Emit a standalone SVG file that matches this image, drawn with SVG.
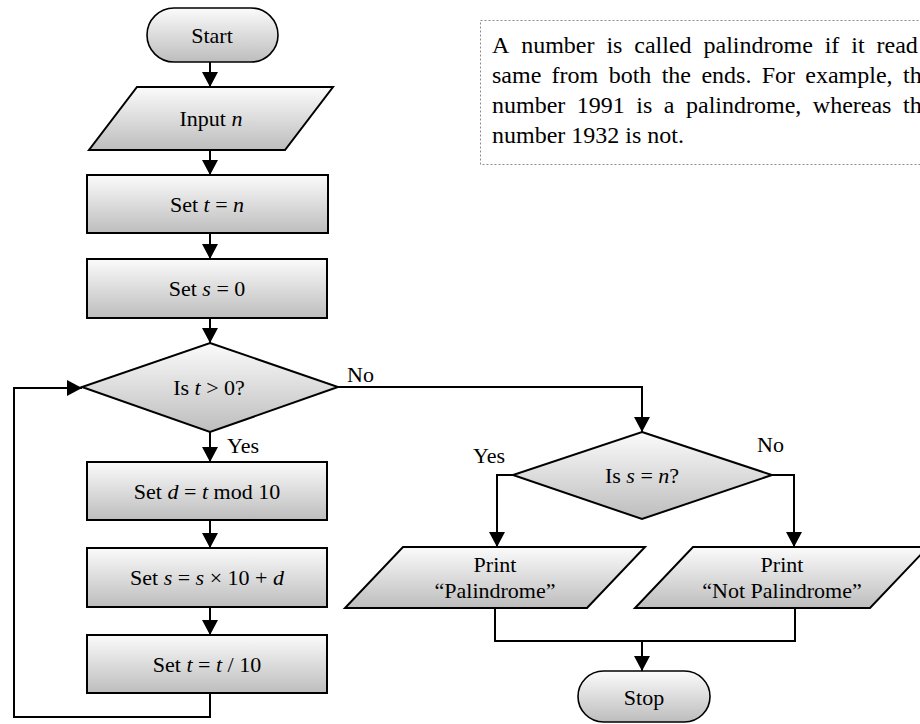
<svg xmlns="http://www.w3.org/2000/svg" width="920" height="724" viewBox="0 0 920 724">
  <defs>
    <linearGradient id="shade" x1="0" y1="0" x2="0" y2="1">
      <stop offset="0" stop-color="#fbfbfb"/>
      <stop offset="1" stop-color="#bdbdbd"/>
    </linearGradient>
    <marker id="arrow" markerUnits="userSpaceOnUse" markerWidth="16" markerHeight="16" viewBox="0 0 16 16" refX="15" refY="8" orient="auto">
      <path d="M0,0 L15,8 L0,16 z" fill="#000"/>
    </marker>
  </defs>
  <style>
    .shape { fill: url(#shade); stroke: #000; stroke-width: 2; }
    .term { fill: url(#shade); stroke: #000; stroke-width: 1.6; }
    .link { fill: none; stroke: #000; stroke-width: 2; }
    .arr { marker-end: url(#arrow); }
    text { font-family: "Liberation Serif", "Times New Roman", serif; font-size: 22px; fill: #000; }
    .lbl { text-anchor: middle; }
    .note { font-size: 24px; }
    i, .it { font-style: italic; }
  </style>

  <rect width="920" height="724" fill="#fff"/>

  <!-- explanatory note -->
  <g id="note">
    <rect x="480.5" y="20.5" width="470" height="144" fill="none" stroke="#8a8a8a" stroke-width="1" stroke-dasharray="2 2"/>
    <text class="note" y="53">
      <tspan x="492">A</tspan><tspan x="521.2">number</tspan><tspan x="606.4">is</tspan><tspan x="634.3">called</tspan><tspan x="703.5">palindrome</tspan><tspan x="824.7">if</tspan><tspan x="851.3">it</tspan><tspan x="876.5">read</tspan>
    </text>
    <text class="note" y="83">
      <tspan x="492">same</tspan><tspan x="551.6">from</tspan><tspan x="608.7">both</tspan><tspan x="661.7">the</tspan><tspan x="701.4">ends.</tspan><tspan x="761.7">For</tspan><tspan x="805.3">example,</tspan><tspan x="903">th</tspan>
    </text>
    <text class="note" y="113">
      <tspan x="492">number</tspan><tspan x="576.8">1991</tspan><tspan x="636.3">is</tspan><tspan x="663.8">a</tspan><tspan x="686">palindrome,</tspan><tspan x="812.8">whereas</tspan><tspan x="903">th</tspan>
    </text>
    <text class="note" x="492" y="143">number 1932 is not.</text>
  </g>

  <!-- connectors -->
  <g id="connectors">
    <path class="link arr" d="M210,62 V87"/>
    <path class="link arr" d="M210,150 V175"/>
    <path class="link arr" d="M210,233 V259"/>
    <path class="link arr" d="M210,318 V343"/>
    <path class="link arr" d="M210,432 V462"/>
    <path class="link arr" d="M210,520 V548"/>
    <path class="link arr" d="M210,607 V635"/>
    <path class="link arr" d="M210,693 V717 H14 V388 H82"/>
    <path class="link arr" d="M338,387 H642 V432"/>
    <path class="link arr" d="M513,475 H497 V547"/>
    <path class="link arr" d="M772,475 H794 V547"/>
    <path class="link" d="M495,608 V641 H795 V608"/>
    <path class="link arr" d="M642,641 V671"/>
    <text x="347" y="382">No</text>
    <text x="227" y="453">Yes</text>
    <text x="473" y="463">Yes</text>
    <text x="757" y="452">No</text>
  </g>

  <g id="start">
    <rect class="term" x="147" y="8" width="131" height="54" rx="27"/>
    <text class="lbl" x="212" y="43">Start</text>
  </g>

  <g id="input-n">
    <polygon class="shape" points="137,87 333,87 285,150 89,150"/>
    <text class="lbl" x="211" y="126">Input <tspan class="it">n</tspan></text>
  </g>

  <g id="set-t-n">
    <rect class="shape" x="87" y="175" width="241" height="58"/>
    <text class="lbl" x="207" y="212">Set <tspan class="it">t</tspan> = <tspan class="it">n</tspan></text>
  </g>

  <g id="set-s-0">
    <rect class="shape" x="87" y="259" width="240" height="59"/>
    <text class="lbl" x="207" y="296">Set <tspan class="it">s</tspan> = 0</text>
  </g>

  <g id="test-t">
    <polygon class="shape" points="210,343 338,387 210,432 82,387"/>
    <text class="lbl" x="209" y="395">Is <tspan class="it">t</tspan> &gt; 0?</text>
  </g>

  <g id="set-d">
    <rect class="shape" x="87" y="462" width="240" height="58"/>
    <text class="lbl" x="207" y="499">Set <tspan class="it">d</tspan> = <tspan class="it">t</tspan> mod 10</text>
  </g>

  <g id="set-s-acc">
    <rect class="shape" x="87" y="548" width="240" height="59"/>
    <text class="lbl" x="207" y="585">Set <tspan class="it">s</tspan> = <tspan class="it">s</tspan> × 10 + <tspan class="it">d</tspan></text>
  </g>

  <g id="set-t-div">
    <rect class="shape" x="87" y="635" width="240" height="58"/>
    <text class="lbl" x="207" y="672">Set <tspan class="it">t</tspan> = <tspan class="it">t</tspan> / 10</text>
  </g>

  <g id="test-s">
    <polygon class="shape" points="642,432 772,475 642,519 513,475"/>
    <text class="lbl" x="642" y="483">Is <tspan class="it">s</tspan> = <tspan class="it">n</tspan>?</text>
  </g>

  <g id="print-yes">
    <polygon class="shape" points="403,547 645,547 587,608 345,608"/>
    <text class="lbl" x="495" y="572">Print</text>
    <text class="lbl" x="495" y="598">“Palindrome”</text>
  </g>

  <g id="print-no">
    <polygon class="shape" points="693,547 928,547 870,608 635,608"/>
    <text class="lbl" x="782" y="572">Print</text>
    <text class="lbl" x="782" y="598">“Not Palindrome”</text>
  </g>

  <g id="stop">
    <rect class="term" x="578" y="671" width="132" height="51" rx="25.5"/>
    <text class="lbl" x="644" y="705">Stop</text>
  </g>
</svg>
